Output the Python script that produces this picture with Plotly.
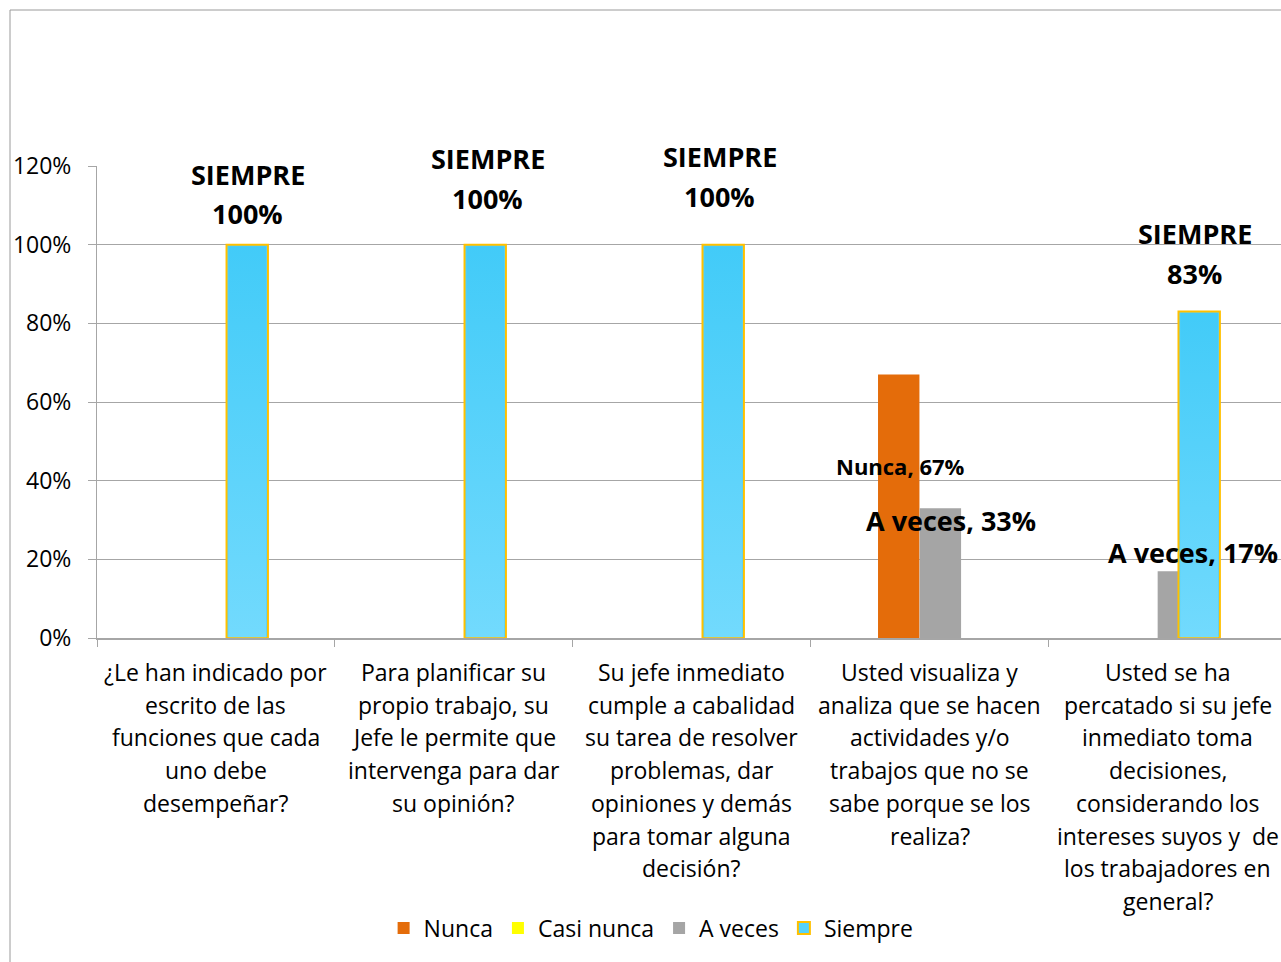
import plotly.graph_objects as go

# Survey questions (one list of lines per category)
categories = [
    ["¿Le han indicado por", "escrito de las", "funciones que cada", "uno debe", "desempeñar?"],
    ["Para planificar su", "propio trabajo, su", "Jefe le permite que", "intervenga para dar", "su opinión?"],
    ["Su jefe inmediato", "cumple a cabalidad", "su tarea de resolver", "problemas, dar",
     "opiniones y demás", "para tomar alguna", "decisión?"],
    ["Usted visualiza y", "analiza que se hacen", "actividades y/o", "trabajos que no se",
     "sabe porque se los", "realiza?"],
    ["Usted se ha", "percatado si su jefe", "inmediato toma", "decisiones,", "considerando los",
     "intereses suyos y  de", "los trabajadores en", "general?"],
]

series_names = ["Nunca", "Casi nunca", "A veces", "Siempre"]
# None = no answers in that category
nunca = [None, None, None, 0.67, None]
casi_nunca = [None, None, None, None, None]
a_veces = [None, None, None, 0.33, 0.17]
siempre = [1.0, 1.0, 1.0, None, 0.83]

y_ticks = [0, 0.2, 0.4, 0.6, 0.8, 1.0, 1.2]
y_tick_labels = ["0%", "20%", "40%", "60%", "80%", "100%", "120%"]

FONT = "Open Sans"
TXT = "#000000"
GRID = "#a6a6a6"
FS = 23

x_pos = list(range(len(categories)))
bar_w = 0.174
step = 0.0875
centers = [-1.5 * step, -0.5 * step, 0.5 * step, 1.5 * step]
colors = ["#e46c0a", "#ffff00", "#a5a5a5", "#55d2fa"]
values = [nunca, casi_nunca, a_veces, siempre]

fig = go.Figure()
for i, (name, vals, col) in enumerate(zip(series_names, values, colors)):
    is_siempre = name == "Siempre"
    fig.add_trace(go.Bar(
        name=name,
        x=x_pos,
        y=vals,
        width=bar_w,
        offset=centers[i] - bar_w / 2,
        marker=dict(color=col,
                    line=dict(color="#ffc000" if is_siempre else col, width=2 if is_siempre else 0)),
        hoverinfo="skip",
    ))

# Vertical gradient inside the "Siempre" bars
inset = 0.0075
for xi, v in zip(x_pos, siempre):
    if not v:
        continue
    x0 = xi + centers[3] - bar_w / 2 + inset
    x1 = xi + centers[3] + bar_w / 2 - inset
    y1 = v - 0.004
    fig.add_trace(go.Scatter(
        x=[x0, x1, x1, x0, x0],
        y=[0.002, 0.002, y1, y1, 0.002],
        mode="lines",
        line=dict(width=0, color="rgba(0,0,0,0)"),
        fill="toself",
        fillgradient=dict(type="vertical",
                          colorscale=[[0, "#72dafd"], [1, "#42cbf8"]]),
        showlegend=False,
        hoverinfo="skip",
    ))


def px_to_paper(ypx):
    return (638 - ypx) / 472


def px_to_x(xpx):
    return (xpx - 97) / 238 - 0.5


annotations = []

# "SIEMPRE / value" labels above the Siempre bars
siempre_label_pos = [(248, 175), (488, 159), (720, 157), None, (1195, 234)]
for v, pos in zip(siempre, siempre_label_pos):
    if not v or pos is None:
        continue
    xp, yp = pos
    for k, line in enumerate(["SIEMPRE", f"{round(v * 100)}%"]):
        annotations.append(dict(
            x=px_to_x(xp), y=px_to_paper(yp + k * 39), xref="x", yref="paper",
            text="<b>" + line + "</b>", showarrow=False, xanchor="center", yanchor="middle",
            font=dict(family=FONT, size=27, color=TXT),
        ))

# Series-name labels on the other bars
point_labels = [
    ("Nunca", nunca[3], 901, 466, 22),
    ("A veces", a_veces[3], 951, 520, 27),
    ("A veces", a_veces[4], 1193, 552, 27),
]
for name, v, xp, yp, fs in point_labels:
    annotations.append(dict(
        x=px_to_x(xp), y=px_to_paper(yp), xref="x", yref="paper",
        text=f"<b>{name}, {round(v * 100)}%</b>", showarrow=False,
        xanchor="center", yanchor="middle",
        font=dict(family=FONT, size=fs, color=TXT),
    ))

# Category labels, one annotation per line
for ci, lines in enumerate(categories):
    for li, line in enumerate(lines):
        annotations.append(dict(
            x=ci, y=px_to_paper(672 + li * 32.7), xref="x", yref="paper",
            text=line, showarrow=False, xanchor="center", yanchor="middle",
            font=dict(family=FONT, size=FS, color=TXT),
        ))

fig.update_layout(
    width=1281, height=962,
    margin=dict(l=97, r=0, t=166, b=324),
    paper_bgcolor="white", plot_bgcolor="white",
    barmode="overlay",
    font=dict(family=FONT, size=FS, color=TXT),
    xaxis=dict(
        range=[-0.5, 4.475],
        tickmode="array",
        tickvals=[-0.5, 0.5, 1.5, 2.5, 3.5, 4.5],
        ticktext=[""] * 6,
        ticks="outside", ticklen=7, tickcolor=GRID, tickwidth=1,
        showgrid=False, zeroline=False,
        showline=True, linecolor=GRID, linewidth=2,
        fixedrange=True,
    ),
    yaxis=dict(
        range=[0, 1.2],
        tickmode="array",
        tickvals=y_ticks,
        ticktext=y_tick_labels,
        ticks="outside", ticklen=8, tickcolor=GRID, tickwidth=1,
        ticklabelstandoff=12,
        showgrid=True, gridcolor=GRID, gridwidth=1,
        zeroline=False,
        showline=True, linecolor=GRID, linewidth=1,
        tickfont=dict(family=FONT, size=FS, color=TXT),
        fixedrange=True,
    ),
    legend=dict(
        orientation="h",
        x=0.468, xanchor="center",
        y=px_to_paper(928), yanchor="middle",
        font=dict(family=FONT, size=FS, color=TXT),
        itemwidth=30,
        traceorder="normal",
        bgcolor="rgba(0,0,0,0)",
    ),
    annotations=annotations,
    shapes=[dict(
        type="rect", xref="paper", yref="paper",
        x0=(10 - 97) / 1184, x1=1.2, y0=-1.0, y1=px_to_paper(10),
        line=dict(color="#9a9a9a", width=1), fillcolor="rgba(0,0,0,0)", layer="below",
    )],
    showlegend=True,
)

fig.write_html("out.html")
